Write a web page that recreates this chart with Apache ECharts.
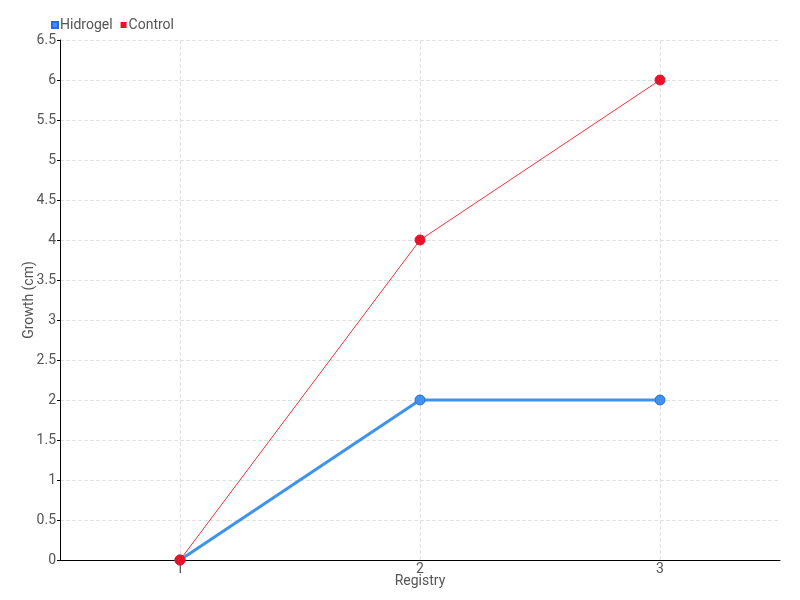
<!DOCTYPE html>
<html><head><meta charset="utf-8">
<script src="https://cdn.jsdelivr.net/npm/echarts@6/dist/echarts.min.js"></script>
<style>html,body{margin:0;padding:0;background:#fff}#c{width:800px;height:600px}</style>
</head><body><div id="c"></div>
<script>
const categories = ['1', '2', '3'];
const hidrogel = [0, 2, 2];
const control = [0, 4, 6];
const yTicks = { min: 0, max: 6.5, interval: 0.5 };

// helper axis with half-band slots so vertical grid lines sit on category centres
const gridSlots = categories.flatMap(c => ['', c]).concat(['']);

const font = 'Roboto, sans-serif';
const chart = echarts.init(document.getElementById('c'));
chart.setOption({
  animation: false,
  textStyle: { fontFamily: font },
  legend: {
    left: 46, top: 13, itemWidth: 6, itemHeight: 6, itemGap: 8,
    icon: 'rect',
    textStyle: { fontFamily: font, fontSize: 14, color: '#555', padding: [0, 0, 0, -3] },
    data: ['Hidrogel', 'Control']
  },
  grid: { left: 60, right: 20, top: 40, bottom: 40 },
  xAxis: [{
    type: 'category', data: categories, boundaryGap: true,
    name: 'Registry', nameLocation: 'middle', nameGap: 14, nameMoveOverlap: false,
    nameTextStyle: { fontFamily: font, fontSize: 14, color: '#555' },
    axisLine: { lineStyle: { color: '#000', width: 1 } },
    axisTick: { alignWithLabel: true, length: 5, lineStyle: { color: '#555' } },
    axisLabel: { fontFamily: font, fontSize: 14, color: '#555', margin: 2 },
    splitLine: { show: false }
  }, {
    type: 'category', data: gridSlots, boundaryGap: false, position: 'bottom',
    axisLine: { show: false }, axisTick: { show: false }, axisLabel: { show: false },
    splitLine: { show: true, interval: (i, v) => v !== '',
      lineStyle: { type: 'dashed', color: '#e0e0e0', width: 1 } },
    z: 0
  }],
  yAxis: {
    type: 'value', min: yTicks.min, max: yTicks.max, interval: yTicks.interval,
    name: 'Growth (cm)', nameLocation: 'middle', nameGap: 24, nameMoveOverlap: false,
    nameTextStyle: { fontFamily: font, fontSize: 14, color: '#555' },
    axisLine: { show: true, lineStyle: { color: '#000', width: 1 } },
    axisTick: { show: true, length: 3, lineStyle: { color: '#000' } },
    axisLabel: { fontFamily: font, fontSize: 14, color: '#555', margin: 4 },
    splitLine: { show: true, lineStyle: { type: 'dashed', color: '#e0e0e0' } }
  },
  series: [
    {
      name: 'Hidrogel', type: 'line', data: hidrogel, xAxisIndex: 0,
      symbol: 'circle', symbolSize: 10,
      itemStyle: { color: '#3f93ef', borderColor: '#2a6fc9', borderWidth: 1 },
      lineStyle: { color: '#3f93ef', width: 3 }
    },
    {
      name: 'Control', type: 'line', data: control, xAxisIndex: 0,
      symbol: 'circle', symbolSize: 10,
      itemStyle: { color: '#e8132a', borderColor: '#e8132a' },
      lineStyle: { color: '#f0303c', width: 1 }
    }
  ]
});
</script></body></html>
